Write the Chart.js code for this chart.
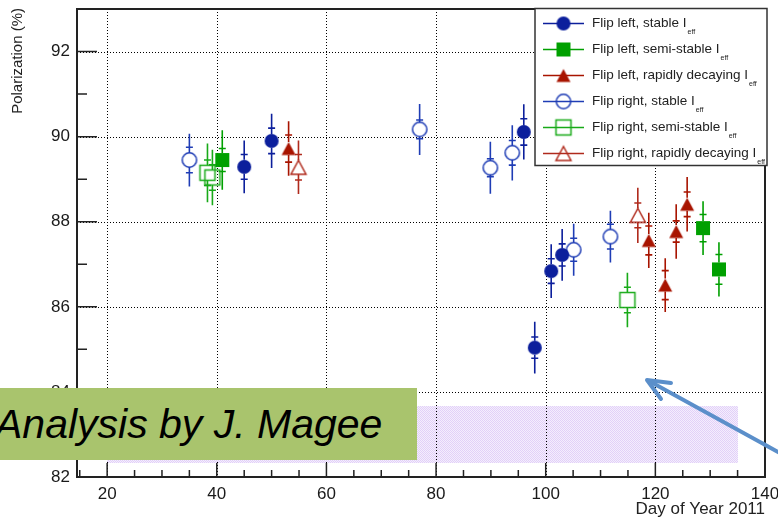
<!DOCTYPE html>
<html>
<head>
<meta charset="utf-8">
<script src="https://cdn.jsdelivr.net/npm/chart.js@4.4.1/dist/chart.umd.min.js"></script>
<style>
  html, body { margin: 0; padding: 0; background: #fff; }
  #wrap { position: relative; width: 778px; height: 519px; overflow: hidden; }
  #chart { position: absolute; left: 0; top: 0; }
  #note {
    position: absolute; left: 0; top: 388px; width: 417px; height: 72px;
    background: #a9c46d; color: #000;
    font: italic 41px 'Liberation Sans', Arial, sans-serif; line-height: 72px;
    white-space: nowrap; overflow: hidden; text-indent: -5px;
  }
  #arrow { position: absolute; left: 0; top: 0; pointer-events: none; }
</style>
</head>
<body>
<div id="wrap">
  <canvas id="chart" width="778" height="519"></canvas>
  <div id="note">Analysis by J. Magee</div>
  <svg id="arrow" width="778" height="519">
    <g stroke="#5b8fca" stroke-width="4" fill="none" stroke-linecap="round" stroke-linejoin="round">
      <line x1="800" y1="464" x2="649" y2="381"/>
      <polyline points="671,383 647,380 661,399"/>
    </g>
  </svg>
</div>
<script>
// axes
const xRange = [14.5, 140];
const yRange = [82, 93];
const xTickValues = [20, 40, 60, 80, 100, 120, 140];
const yTickValues = [82, 84, 86, 88, 90, 92];
const xMinorStep = 5;
const yMinorStep = 1;

// shaded band
const bandDays = [20, 135];
const bandPol = [82.33, 83.67];

// Flip left, stable I_eff
const leftStableDay = [45, 50, 96, 98, 101, 103];
const leftStablePol = [89.29, 89.90, 90.11, 85.04, 86.84, 87.22];
const leftStableStat = [0.29, 0.30, 0.31, 0.25, 0.29, 0.26];
const leftStableTot = [0.62, 0.64, 0.65, 0.61, 0.63, 0.61];

// Flip left, semi-stable I_eff
const leftSemiDay = [41, 128.7, 131.6];
const leftSemiPol = [89.45, 87.85, 86.88];
const leftSemiStat = [0.27, 0.32, 0.35];
const leftSemiTot = [0.70, 0.63, 0.64];

// Flip left, rapidly decaying I_eff
const leftRapidDay = [53.1, 118.8, 121.8, 123.8, 125.8];
const leftRapidPol = [89.72, 87.56, 86.51, 87.77, 88.41];
const leftRapidStat = [0.32, 0.34, 0.34, 0.25, 0.29];
const leftRapidTot = [0.64, 0.65, 0.63, 0.64, 0.64];

// Flip right, stable I_eff
const rightStableDay = [35, 77, 89.9, 93.9, 105.1, 111.8];
const rightStablePol = [89.45, 90.17, 89.27, 89.62, 87.34, 87.65];
const rightStableStat = [0.30, 0.22, 0.21, 0.29, 0.27, 0.29];
const rightStableTot = [0.62, 0.60, 0.61, 0.65, 0.61, 0.61];

// Flip right, semi-stable I_eff
const rightSemiDay = [38.3, 39.2, 114.9];
const rightSemiPol = [89.15, 89.04, 86.16];
const rightSemiStat = [0.30, 0.30, 0.30];
const rightSemiTot = [0.69, 0.65, 0.64];

// Flip right, rapidly decaying I_eff
const rightRapidDay = [54.9, 116.8];
const rightRapidPol = [89.28, 88.15];
const rightRapidStat = [0.30, 0.29];
const rightRapidTot = [0.63, 0.65];

const FONT = "'Liberation Sans', Arial, Helvetica, sans-serif";
const BLUE = '#0c1f9c';
const BLUE_OPEN = '#1f3db5';
const GREEN = '#00a000';
const GREEN_OPEN = '#18aa18';
const RED = '#a81400';
const RED_OPEN = '#b02a1c';

function makeMarker(shape, color, filled) {
  const s = 20;
  const c = document.createElement('canvas');
  c.width = s; c.height = s;
  const g = c.getContext('2d');
  const m = s / 2;
  g.fillStyle = color; g.strokeStyle = color; g.lineWidth = 1.5;
  g.beginPath();
  let half = 7;
  if (shape === 'circle') {
    g.arc(m, m, filled ? 7 : 7.2, 0, Math.PI * 2);
  } else if (shape === 'square') {
    if (filled) g.rect(m - 7, m - 7, 14, 14);
    else { g.rect(m - 7.5, m - 7.5, 15, 15); half = 7.5; }
  } else {
    const h = filled ? 13 : 14, w = filled ? 14 : 15;
    g.moveTo(m, m - h / 2); g.lineTo(m + w / 2, m + h / 2); g.lineTo(m - w / 2, m + h / 2); g.closePath();
    half = h / 2;
  }
  if (filled) g.fill(); else g.stroke();
  c.half = half;
  return c;
}

const series = [
  { label: 'Flip left, stable I', day: leftStableDay, pol: leftStablePol, stat: leftStableStat, tot: leftStableTot, shape: 'circle', filled: true, color: BLUE },
  { label: 'Flip left, semi-stable I', day: leftSemiDay, pol: leftSemiPol, stat: leftSemiStat, tot: leftSemiTot, shape: 'square', filled: true, color: GREEN },
  { label: 'Flip left, rapidly decaying I', day: leftRapidDay, pol: leftRapidPol, stat: leftRapidStat, tot: leftRapidTot, shape: 'triangle', filled: true, color: RED },
  { label: 'Flip right, stable I', day: rightStableDay, pol: rightStablePol, stat: rightStableStat, tot: rightStableTot, shape: 'circle', filled: false, color: BLUE_OPEN },
  { label: 'Flip right, semi-stable I', day: rightSemiDay, pol: rightSemiPol, stat: rightSemiStat, tot: rightSemiTot, shape: 'square', filled: false, color: GREEN_OPEN },
  { label: 'Flip right, rapidly decaying I', day: rightRapidDay, pol: rightRapidPol, stat: rightRapidStat, tot: rightRapidTot, shape: 'triangle', filled: false, color: RED_OPEN },
];

const datasets = series.map((s) => {
  const marker = makeMarker(s.shape, s.color, s.filled);
  return {
    label: s.label,
    data: s.day.map((d, i) => ({ x: d, y: s.pol[i], stat: s.stat[i], tot: s.tot[i] })),
    pointStyle: marker,
    pointRadius: 8,
    showLine: false,
    barColor: s.color,
    marker: marker,
  };
});

// light purple dotted fill, like ROOT's fill pattern
const hatchCanvas = document.createElement('canvas');
hatchCanvas.width = 2; hatchCanvas.height = 2;
const hg = hatchCanvas.getContext('2d');
hg.fillStyle = '#f4eefd'; hg.fillRect(0, 0, 2, 2);
hg.fillStyle = '#e2d0f8'; hg.fillRect(0, 0, 1, 1); hg.fillRect(1, 1, 1, 1);

const rootStyle = {
  id: 'rootStyle',
  beforeDatasetsDraw(chart) {
    const { ctx, chartArea: a, scales: { x, y } } = chart;
    ctx.save();

    // band
    ctx.fillStyle = ctx.createPattern(hatchCanvas, 'repeat');
    const bx0 = Math.round(x.getPixelForValue(bandDays[0]));
    const bx1 = Math.round(x.getPixelForValue(bandDays[1]));
    const by0 = Math.round(y.getPixelForValue(bandPol[1]));
    const by1 = Math.round(y.getPixelForValue(bandPol[0]));
    ctx.fillRect(bx0, by0, bx1 - bx0, by1 - by0);

    // dotted grid
    ctx.strokeStyle = '#000';
    ctx.lineWidth = 1;
    ctx.setLineDash([1, 2]);
    ctx.beginPath();
    xTickValues.forEach((v) => {
      const px = Math.round(x.getPixelForValue(v)) + 0.5;
      ctx.moveTo(px, a.top); ctx.lineTo(px, a.bottom);
    });
    yTickValues.forEach((v) => {
      const py = Math.round(y.getPixelForValue(v)) + 0.5;
      ctx.moveTo(a.left, py); ctx.lineTo(a.right, py);
    });
    ctx.stroke();
    ctx.setLineDash([]);

    // inner tick marks
    ctx.strokeStyle = '#222';
    ctx.lineWidth = 1.5;
    ctx.beginPath();
    for (let v = Math.ceil(xRange[0] / xMinorStep) * xMinorStep; v <= xRange[1]; v += xMinorStep) {
      const px = x.getPixelForValue(v);
      const len = xTickValues.includes(v) ? 14 : 7;
      ctx.moveTo(px, a.bottom); ctx.lineTo(px, a.bottom - len);
    }
    for (let v = yRange[0]; v <= yRange[1]; v += yMinorStep) {
      const py = y.getPixelForValue(v);
      const len = yTickValues.includes(v) ? 20 : 10;
      ctx.moveTo(a.left, py); ctx.lineTo(a.left + len, py);
    }
    ctx.stroke();

    // frame
    ctx.lineWidth = 2;
    ctx.strokeRect(a.left, a.top, a.right - a.left, a.bottom - a.top);

    // error bars (total without caps, statistical with small caps)
    chart.data.datasets.forEach((ds, i) => {
      const meta = chart.getDatasetMeta(i);
      const gap = ds.marker.half;
      ctx.strokeStyle = ds.barColor;
      ctx.lineWidth = 1.6;
      ctx.beginPath();
      meta.data.forEach((pt, j) => {
        const d = ds.data[j];
        const px = pt.x, py = pt.y;
        const top = y.getPixelForValue(d.y + d.tot);
        const bot = y.getPixelForValue(d.y - d.tot);
        ctx.moveTo(px, top); ctx.lineTo(px, py - gap);
        ctx.moveTo(px, py + gap); ctx.lineTo(px, bot);
        [d.y + d.stat, d.y - d.stat].forEach((v) => {
          const cy = y.getPixelForValue(v);
          ctx.moveTo(px - 3.5, cy); ctx.lineTo(px + 3.5, cy);
        });
      });
      ctx.stroke();
    });
    ctx.restore();
  },
  afterDatasetsDraw(chart) {
    const { ctx, chartArea: a } = chart;
    ctx.save();

    // legend
    const lx = 535, ly = 8.5, lw = 232, lh = 157;
    ctx.fillStyle = '#fff';
    ctx.fillRect(lx, ly, lw, lh);
    ctx.strokeStyle = '#333';
    ctx.lineWidth = 1.5;
    ctx.strokeRect(lx, ly, lw, lh);
    chart.data.datasets.forEach((ds, i) => {
      const ry = 23.5 + i * 26;
      ctx.strokeStyle = ds.barColor;
      ctx.lineWidth = 1.5;
      ctx.beginPath();
      ctx.moveTo(543, ry); ctx.lineTo(584, ry);
      ctx.stroke();
      ctx.drawImage(ds.marker, 563.5 - 10, ry - 10);
      ctx.fillStyle = '#222';
      ctx.font = '13.5px ' + FONT;
      ctx.textBaseline = 'middle';
      ctx.textAlign = 'left';
      ctx.fillText(ds.label, 592, ry);
      const w = ctx.measureText(ds.label).width;
      ctx.font = '7px ' + FONT;
      ctx.fillText('eff', 592 + w + 1, ry + 9);
    });

    // axis titles
    ctx.fillStyle = '#222';
    ctx.font = '15px ' + FONT;
    ctx.save();
    ctx.translate(18, a.top - 1);
    ctx.rotate(-Math.PI / 2);
    ctx.textAlign = 'right';
    ctx.textBaseline = 'middle';
    ctx.fillText('Polarization (%)', 0, 0);
    ctx.restore();

    ctx.font = '17px ' + FONT;
    ctx.textAlign = 'right';
    ctx.textBaseline = 'alphabetic';
    ctx.fillText('Day of Year 2011', a.right, 514);
    ctx.restore();
  },
};

new Chart(document.getElementById('chart'), {
  type: 'scatter',
  data: { datasets },
  options: {
    responsive: false,
    devicePixelRatio: 1,
    animation: false,
    events: [],
    layout: { padding: { left: 0, top: 9, right: 13, bottom: 0 } },
    plugins: { legend: { display: false }, tooltip: { enabled: false } },
    scales: {
      x: {
        type: 'linear',
        min: xRange[0],
        max: xRange[1],
        afterBuildTicks: (s) => { s.ticks = xTickValues.map((v) => ({ value: v })); },
        afterFit: (s) => { s.height = 42; s.paddingLeft = 0; s.paddingRight = 0; },
        grid: { display: false, drawTicks: false },
        border: { display: false },
        ticks: { font: { family: FONT, size: 17 }, color: '#1a1a1a', padding: 7, maxRotation: 0, autoSkip: false },
      },
      y: {
        type: 'linear',
        min: yRange[0],
        max: yRange[1],
        afterBuildTicks: (s) => { s.ticks = yTickValues.map((v) => ({ value: v })); },
        afterFit: (s) => { s.width = 77; s.paddingTop = 0; s.paddingBottom = 0; },
        grid: { display: false, drawTicks: false },
        border: { display: false },
        ticks: { font: { family: FONT, size: 17 }, color: '#1a1a1a', padding: 7, autoSkip: false },
      },
    },
  },
  plugins: [rootStyle],
});
</script>
</body>
</html>
